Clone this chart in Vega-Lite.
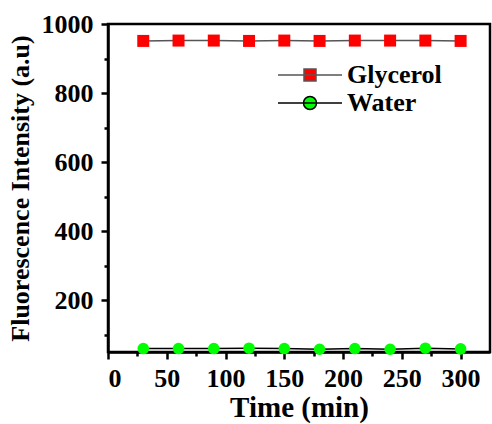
{
  "$schema": "https://vega.github.io/schema/vega-lite/v6.json",
  "width": 382,
  "height": 328,
  "autosize": {"type": "none"},
  "padding": {"left": 108, "top": 24, "right": 2, "bottom": 72},
  "background": "white",
  "config": {
    "view": {"stroke": "#000", "strokeWidth": 2.5},
    "font": "Liberation Serif",
    "axis": {"grid": false, "domainColor": "#000", "domainWidth": 2.5, "tickColor": "#000", "tickWidth": 2.5, "labelColor": "#000", "titleColor": "#000"}
  },
  "data": {"values": [
    {"series": "Glycerol", "time": 30, "value": 951},
    {"series": "Glycerol", "time": 60, "value": 952},
    {"series": "Glycerol", "time": 90, "value": 952},
    {"series": "Glycerol", "time": 120, "value": 951},
    {"series": "Glycerol", "time": 150, "value": 952},
    {"series": "Glycerol", "time": 180, "value": 951},
    {"series": "Glycerol", "time": 210, "value": 952},
    {"series": "Glycerol", "time": 240, "value": 952},
    {"series": "Glycerol", "time": 270, "value": 952},
    {"series": "Glycerol", "time": 300, "value": 951},
    {"series": "Water", "time": 30, "value": 60},
    {"series": "Water", "time": 60, "value": 60},
    {"series": "Water", "time": 90, "value": 60},
    {"series": "Water", "time": 120, "value": 61},
    {"series": "Water", "time": 150, "value": 60},
    {"series": "Water", "time": 180, "value": 58},
    {"series": "Water", "time": 210, "value": 60},
    {"series": "Water", "time": 240, "value": 58},
    {"series": "Water", "time": 270, "value": 61},
    {"series": "Water", "time": 300, "value": 59}
  ]},
  "resolve": {"axis": {"x": "independent", "y": "independent"}},
  "layer": [
    {
      "mark": {"type": "line", "strokeWidth": 1.5},
      "encoding": {
        "x": {"field": "time", "type": "quantitative", "scale": {"domain": [0, 325], "nice": false, "zero": false},
          "axis": {"orient": "bottom", "values": [0, 50, 100, 150, 200, 250, 300], "tickSize": 7, "labelPadding": 6, "labelFontSize": 26, "labelFontWeight": "bold", "title": "Time (min)", "titleFontSize": 29, "titleFontWeight": "bold", "titlePadding": 2}},
        "y": {"field": "value", "type": "quantitative", "scale": {"domain": [50, 1000], "nice": false, "zero": false},
          "axis": {"orient": "left", "values": [200, 400, 600, 800, 1000], "format": "d", "tickSize": 7, "labelPadding": 8, "labelFontSize": 26, "labelFontWeight": "bold", "title": "Fluorescence Intensity (a.u)", "titleFontSize": 26, "titleFontWeight": "bold", "titlePadding": 8}},
        "stroke": {"field": "series", "type": "nominal", "scale": {"domain": ["Glycerol", "Water"], "range": ["#555555", "#000000"]},
          "legend": {"title": null, "orient": "none", "legendX": 189, "legendY": 38, "padding": 0, "symbolSize": 400, "labelOffset": 24, "labelFontSize": 26, "labelFontWeight": "bold", "labelColor": "#000", "rowPadding": 2,
            "encode": {"symbols": {"update": {
              "shape": {"signal": "datum.value === 'Glycerol' ? 'M-3.2,0H3.2M-0.6,-0.6H0.6V0.6H-0.6Z' : 'M-3.2,0H3.2M0.65,0A0.65,0.65,0,1,1,-0.65,0A0.65,0.65,0,1,1,0.65,0'"},
              "fill": {"signal": "datum.value === 'Glycerol' ? '#ff0000' : '#00ff00'"},
              "stroke": {"signal": "datum.value === 'Glycerol' ? '#555555' : '#000000'"},
              "strokeWidth": {"value": 1.5},
              "opacity": {"value": 1}
            }}}}},
        "detail": {"field": "series"}
      }
    },
    {
      "transform": [{"filter": "datum.series === 'Glycerol'"}],
      "mark": {"type": "point", "filled": true, "opacity": 1, "size": 144, "shape": "square", "color": "#ff0000"},
      "encoding": {
        "x": {"field": "time", "type": "quantitative",
          "axis": {"orient": "bottom", "values": [25, 75, 125, 175, 225, 275], "tickSize": 4, "labels": false, "domain": false, "title": null}},
        "y": {"field": "value", "type": "quantitative",
          "axis": {"orient": "left", "values": [100, 300, 500, 700, 900], "tickSize": 4, "labels": false, "domain": false, "title": null}}
      }
    },
    {
      "transform": [{"filter": "datum.series === 'Water'"}],
      "mark": {"type": "point", "filled": true, "opacity": 1, "size": 135, "shape": "circle", "color": "#00ff00"},
      "encoding": {
        "x": {"field": "time", "type": "quantitative", "axis": null},
        "y": {"field": "value", "type": "quantitative", "axis": null}
      }
    }
  ]
}
